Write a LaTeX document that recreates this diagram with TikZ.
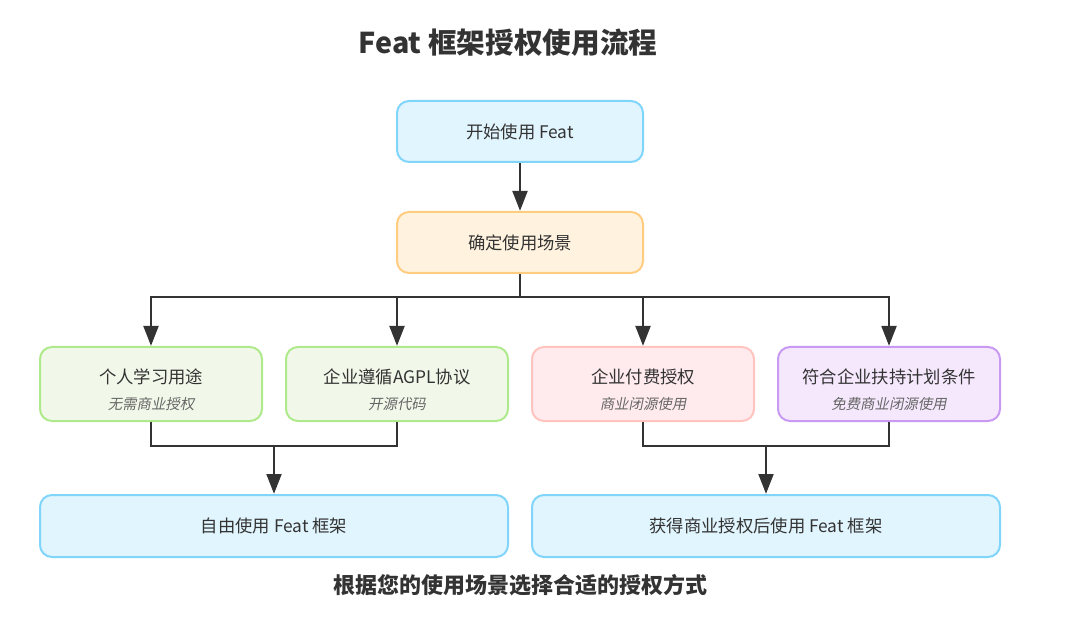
\documentclass[tikz,border=0pt]{standalone}
\usepackage{fontspec}
\usepackage{xcolor}
\usepackage{tikz}
\usetikzlibrary{arrows.meta,positioning}
\setmainfont{Noto Sans CJK SC}
\newfontfamily\slantfont[FakeSlant=0.2]{Noto Sans CJK SC}
\definecolor{ink}{HTML}{333333}
\definecolor{note}{HTML}{666666}
\definecolor{blueFill}{HTML}{E1F5FE}
\definecolor{blueLine}{HTML}{81D4FA}
\definecolor{orangeFill}{HTML}{FFF3E0}
\definecolor{orangeLine}{HTML}{FFCC80}
\definecolor{greenFill}{HTML}{F1F8E9}
\definecolor{greenLine}{HTML}{AEEA8C}
\definecolor{redFill}{HTML}{FFEBEE}
\definecolor{redLine}{HTML}{FFC4C0}
\definecolor{purpleFill}{HTML}{F5E8FD}
\definecolor{purpleLine}{HTML}{C99AF2}
\tikzset{
  box/.style={
    draw, line width=1.5pt, rounded corners=9pt,
    align=center, text=ink,
    font=\fontsize{13}{19.5}\selectfont
  },
  topbox/.style={box, minimum width=184.5pt, minimum height=45.75pt},
  casebox/.style={box, minimum width=166.5pt, minimum height=55.5pt},
  endbox/.style={box, minimum width=351pt, minimum height=46.5pt},
  link/.style={draw=ink, line width=2.2pt},
  flow/.style={link, -{Triangle[length=15pt,width=11pt]}}
}
\newcommand{\subnote}[1]{{\slantfont\fontsize{10.8}{12}\selectfont\color{note}#1}}
\newcommand{\headline}[1]{\rule{0pt}{20pt}#1}

\begin{document}
\begin{tikzpicture}[x=0.75pt, y=-0.75pt]
  \useasboundingbox (0,0) rectangle (1080,630);

  % title
  \node[font=\bfseries\fontsize{21.5}{24}\selectfont, text=ink] (title) at (508,43) {Feat 框架授权使用流程};

  % start and scene
  \node[topbox, fill=blueFill, draw=blueLine] (start) at (520,131.5) {开始使用 Feat};
  \node[topbox, fill=orangeFill, draw=orangeLine] (scene) at (520,242.5) {确定使用场景};

  % four cases
  \node[casebox, fill=greenFill, draw=greenLine] (personal) at (151,384) {\headline{个人学习用途}\\\subnote{无需商业授权}};
  \node[casebox, fill=greenFill, draw=greenLine] (agpl) at (397,384) {\headline{企业遵循AGPL协议}\\\subnote{开源代码}};
  \node[casebox, fill=redFill, draw=redLine] (paid) at (643,384) {\headline{企业付费授权}\\\subnote{商业闭源使用}};
  \node[casebox, fill=purpleFill, draw=purpleLine] (support) at (889,384) {\headline{符合企业扶持计划条件}\\\subnote{免费商业闭源使用}};

  % results
  \node[endbox, fill=blueFill, draw=blueLine] (freeuse) at (274,526) {自由使用 Feat 框架};
  \node[endbox, fill=blueFill, draw=blueLine] (licuse) at (766,526) {获得商业授权后使用 Feat 框架};

  % footer
  \node[font=\bfseries\fontsize{16.5}{19}\selectfont, text=ink] (footer) at (520,585) {根据您的使用场景选择合适的授权方式};

  % connectors
  \coordinate (split) at (520,297);
  \coordinate (joinL) at (274,446);
  \coordinate (joinR) at (766,446);

  \draw[flow] (start) -- (scene);
  \draw[link] (scene) -- (split);
  \draw[flow] (split) -| (personal);
  \draw[flow] (split) -| (agpl);
  \draw[flow] (split) -| (paid);
  \draw[flow] (split) -| (support);

  \draw[link] (personal) |- (joinL);
  \draw[link] (agpl) |- (joinL);
  \draw[flow] (joinL) -- (freeuse);
  \draw[link] (paid) |- (joinR);
  \draw[link] (support) |- (joinR);
  \draw[flow] (joinR) -- (licuse);
\end{tikzpicture}
\end{document}
